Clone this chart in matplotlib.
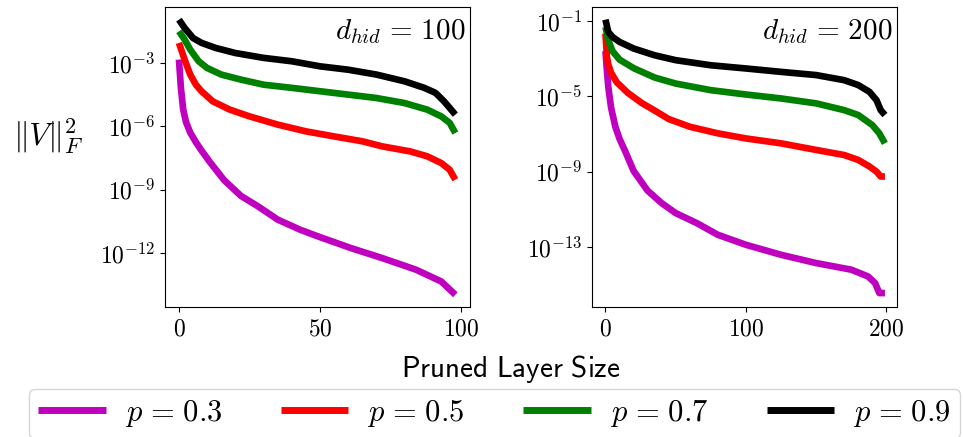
import numpy as np
import matplotlib
matplotlib.use('Agg')
import matplotlib.pyplot as plt
from matplotlib.ticker import FixedLocator, FuncFormatter, NullLocator
from matplotlib.lines import Line2D

plt.rcParams['mathtext.fontset'] = 'cm'

SP = r'\hspace{0.13}'
labels = [r'$p %s=%s 0.3$' % (SP, SP), r'$p %s=%s 0.5$' % (SP, SP),
          r'$p %s=%s 0.7$' % (SP, SP), r'$p %s=%s 0.9$' % (SP, SP)]
colors = ['#bf00bf', '#ff0000', '#008000', '#000000']

# ---- d_hid = 100 (log10 of ||V||_F^2) ----
l_p3_x = [0, 0.7, 1.5, 2.5, 4, 6, 8, 11, 16, 22, 28, 35, 43, 50, 61, 72, 84, 93, 98]
l_p3_y = [-2.84, -4.2, -5.2, -5.8, -6.3, -6.75, -7.15, -7.7, -8.55, -9.3, -9.79, -10.42, -10.9, -11.25, -11.77, -12.24, -12.79, -13.35, -13.98]
l_p5_x = [0, 2, 4, 6, 8, 12, 18, 25, 35, 45, 55, 65, 72, 82, 88, 93, 96, 98]
l_p5_y = [-2.05, -2.84, -3.55, -4.03, -4.34, -4.82, -5.21, -5.53, -5.92, -6.24, -6.48, -6.71, -6.95, -7.19, -7.42, -7.74, -8.06, -8.53]
l_p7_x = [0, 2, 4, 7, 10, 15, 22, 30, 40, 50, 60, 70, 80, 88, 93, 96, 98]
l_p7_y = [-1.5, -1.89, -2.37, -2.92, -3.24, -3.55, -3.79, -4.03, -4.18, -4.34, -4.5, -4.66, -4.9, -5.21, -5.53, -5.84, -6.32]
l_p9_x = [0, 2, 5, 8, 13, 20, 30, 40, 50, 60, 70, 80, 87, 91, 94, 96, 98]
l_p9_y = [-0.95, -1.34, -1.82, -2.05, -2.29, -2.53, -2.76, -2.92, -3.16, -3.32, -3.55, -3.87, -4.18, -4.42, -4.82, -5.13, -5.45]

# ---- d_hid = 200 ----
r_p3_x = [0, 1, 2, 4, 7, 10, 14, 20, 30, 40, 50, 65, 80, 100, 125, 150, 175, 187, 192, 195, 199]
r_p3_y = [-2.6, -3.6, -4.5, -5.6, -6.6, -7.25, -7.9, -8.95, -10.0, -10.66, -11.19, -11.72, -12.34, -12.87, -13.4, -13.84, -14.19, -14.55, -14.9, -15.43, -15.43]
r_p5_x = [0, 1, 2, 4, 8, 16, 26, 35, 45, 60, 80, 100, 125, 150, 170, 180, 188, 193, 196, 199]
r_p5_y = [-1.67, -2.9, -3.3, -3.75, -4.25, -4.82, -5.36, -5.75, -6.2, -6.61, -6.96, -7.23, -7.49, -7.84, -8.11, -8.37, -8.72, -8.99, -9.25, -9.25]
r_p7_x = [0, 2, 5, 10, 20, 35, 50, 75, 100, 125, 150, 170, 180, 190, 195, 199]
r_p7_y = [-1.32, -2.02, -2.6, -3.05, -3.5, -4.0, -4.32, -4.67, -4.9, -5.11, -5.37, -5.73, -5.99, -6.52, -6.96, -7.49]
r_p9_x = [0, 2, 5, 10, 20, 35, 50, 75, 100, 125, 150, 170, 180, 188, 193, 196, 199]
r_p9_y = [-0.93, -1.58, -1.85, -2.11, -2.46, -2.82, -3.08, -3.35, -3.52, -3.7, -3.87, -4.14, -4.4, -4.76, -5.2, -5.73, -5.99]

panels = [
    dict(title=r'$d_{hid} %s=%s 100$' % (SP, SP),
         series=[(l_p3_x, l_p3_y), (l_p5_x, l_p5_y), (l_p7_x, l_p7_y), (l_p9_x, l_p9_y)],
         xticks=[0, 50, 100], yexp=[-3, -6, -9, -12],
         xlim=(-4.95, 103.2), ylim=(-14.56, -0.35)),
    dict(title=r'$d_{hid} %s=%s 200$' % (SP, SP),
         series=[(r_p3_x, r_p3_y), (r_p5_x, r_p5_y), (r_p7_x, r_p7_y), (r_p9_x, r_p9_y)],
         xticks=[0, 100, 200], yexp=[-1, -5, -9, -13],
         xlim=(-9.6, 207.6), ylim=(-16.17, -0.26)),
]

W, H = 963, 437
fig = plt.figure(figsize=(W / 100, H / 100), dpi=100)
ax_l = fig.add_axes([165 / W, 1 - 307 / H, 305 / W, 300 / H])
ax_r = fig.add_axes([592 / W, 1 - 307 / H, 305 / W, 300 / H])

fmt = FuncFormatter(lambda v, pos: r'$10^{%d}$' % int(round(np.log10(v))))

for ax, pn in zip([ax_l, ax_r], panels):
    for (xs, ys), c in zip(pn['series'], colors):
        ax.plot(xs, 10.0 ** np.array(ys), color=c, lw=4.8, solid_capstyle='butt')
    ax.set_yscale('log')
    ax.set_xlim(*pn['xlim'])
    ax.set_ylim(10.0 ** pn['ylim'][0], 10.0 ** pn['ylim'][1])
    ax.xaxis.set_major_locator(FixedLocator(pn['xticks']))
    ax.xaxis.set_major_formatter(FuncFormatter(lambda v, pos: r'$%d$' % v))
    ax.yaxis.set_major_locator(FixedLocator([10.0 ** e for e in pn['yexp']]))
    ax.yaxis.set_major_formatter(fmt)
    ax.yaxis.set_minor_locator(NullLocator())
    ax.tick_params(labelsize=17)
    ax.text(0.985, 0.965, pn['title'], transform=ax.transAxes, ha='right', va='top', fontsize=21)

fig.text(13 / W, 1 - 136 / H, r'$\|V\|_F^2$', fontsize=23, ha='left', va='center')
fig.text(511 / W, 1 - 369 / H, r'$\mathsf{Pruned\ Layer\ Size}$', fontsize=21, ha='center', va='center')

handles = [Line2D([], [], color=c, lw=5, solid_capstyle='butt') for c in colors]
fig.legend(handles, labels, loc='upper center', bbox_to_anchor=(494.5 / W, 1 - 389 / H),
           ncol=4, fontsize=22, handlelength=2.2, handletextpad=0.62, columnspacing=1.93,
           borderpad=0.3, borderaxespad=0, frameon=True)

fig.savefig('out.png', dpi=100)
